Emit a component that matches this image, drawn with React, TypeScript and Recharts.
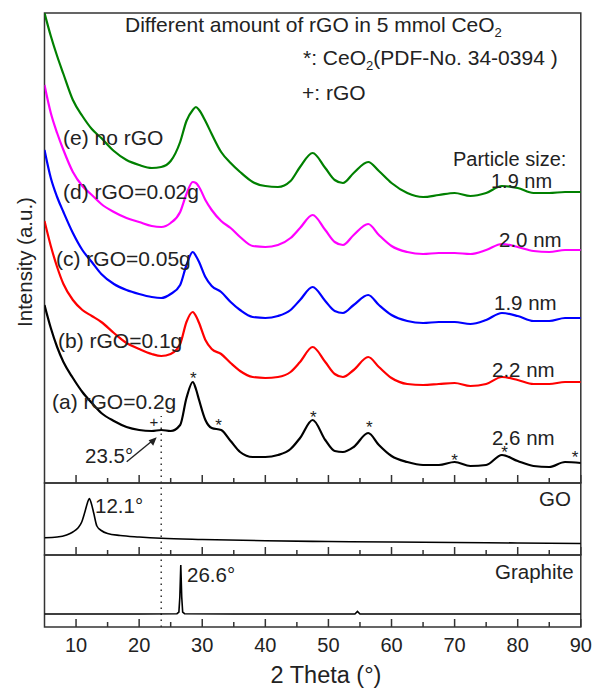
import React from "react";
import {
  ComposedChart,
  Line,
  Scatter,
  XAxis,
  YAxis,
  ReferenceArea,
  ReferenceLine,
} from "recharts";

const W = 594;
const H = 688;
const FONT = '"Liberation Sans", Arial, Helvetica, sans-serif';
const INK = "#222";

// 2θ grid shared by the five rGO / CeO2 patterns (top panel)
const twoTheta = [
  5, 6, 7, 8, 9.5, 11, 12.5, 14, 16, 18, 20, 22, 23.5, 25, 26.5, 27.5, 28.5, 29,
  29.5, 30.5, 31.5, 33, 34.5, 36, 38, 40, 42, 44, 45.5, 47.5, 49.5, 51, 52.3, 54,
  56.3, 58, 60, 62.5, 65, 67.5, 70, 72.5, 75, 77.5, 80, 82.5, 85, 87.5, 90,
];

// (a) rGO=0.2g
const rgo02 = [
  178, 155, 136, 121, 105, 91, 80, 70, 62, 56, 53, 52, 53, 52, 58, 85, 101, 94,
  83, 63, 55, 53, 42, 31, 26, 26, 28, 34, 45, 63, 43, 32, 31, 36, 50, 38, 27, 21,
  18, 18, 21, 17, 18, 28, 22, 17, 16, 21, 20,
];
// (b) rGO=0.1g
const rgo01 = [
  262, 237, 216, 199, 183, 173, 167, 161, 150, 140, 134, 129, 127, 129, 139, 161,
  171, 167, 160, 143, 134, 129, 120, 112, 106, 105, 106, 111, 121, 136, 121, 109,
  106, 113, 126, 116, 105, 99, 98, 99, 100, 97, 99, 106, 103, 99, 99, 101, 101,
];
// (c) rGO=0.05g
const rgo005 = [
  333, 305, 286, 271, 250, 233, 221, 209, 199, 193, 189, 186, 185, 189, 198, 218,
  231, 227, 221, 206, 197, 191, 181, 173, 166, 165, 167, 173, 183, 196, 182, 172,
  170, 178, 188, 178, 168, 162, 160, 161, 161, 159, 163, 170, 167, 162, 162, 165,
  165,
];
// (d) rGO=0.02g
const rgo002 = [
  398, 370, 350, 333, 311, 297, 288, 279, 271, 265, 261, 257, 256, 260, 271, 289,
  301, 300, 296, 283, 273, 262, 255, 246, 237, 236, 238, 245, 255, 268, 253, 241,
  238, 248, 259, 248, 237, 231, 229, 230, 230, 229, 233, 239, 236, 232, 231, 233,
  233,
];
// (e) no rGO
const noRgo = [
  470, 447, 427, 409, 383, 367, 354, 345, 332, 323, 318, 315, 316, 322, 341, 362,
  373, 376, 373, 362, 349, 331, 320, 311, 301, 297, 296, 302, 316, 330, 315, 303,
  300, 310, 321, 312, 300, 290, 286, 288, 290, 287, 290, 297, 295, 290, 290, 291,
  291,
];

// CeO2 reflections marked with * on pattern (a)
const starTheta = [28.6, 32.6, 47.6, 56.5, 70, 77.9, 89.1];
const starHeight = [109, 62, 70, 60, 27, 35, 30];

// GO reference pattern
const goTheta = [
  5, 7, 8.5, 9.5, 10.3, 10.9, 11.4, 11.8, 12.1, 12.4, 12.8, 13.3, 14, 15, 17, 20,
  23.5, 30, 40, 50, 60, 70, 80, 90,
];
const goIntensity = [
  17.3, 18, 20, 23, 27, 33, 43, 52, 56.5, 52, 42, 29, 24.5, 21.5, 19.5, 18, 16.7,
  15.5, 14.3, 13.5, 13, 12.5, 12, 11.5,
];

// Graphite reference pattern
const graphiteTheta = [
  5, 20, 26.0, 26.3, 26.45, 26.6, 26.75, 26.9, 27.2, 35, 54.2, 54.6, 55.0, 70, 90,
];
const graphiteIntensity = [
  13, 13, 13.3, 15, 30, 62, 30, 15, 13.3, 13, 13, 15.5, 13, 13, 13,
];

const xTicks = [10, 15, 20, 25, 30, 35, 40, 45, 50, 55, 60, 65, 70, 75, 80, 85, 90];
const rgoPeak = 23.5;

const topRows = twoTheta.map((t, i) => ({
  t,
  a: rgo02[i],
  b: rgo01[i],
  c: rgo005[i],
  d: rgo002[i],
  e: noRgo[i],
}));
const starRows = starTheta.map((t, i) => ({ t, v: starHeight[i] }));
const goRows = goTheta.map((t, i) => ({ t, v: goIntensity[i] }));
const graphiteRows = graphiteTheta.map((t, i) => ({ t, v: graphiteIntensity[i] }));

function frameTick(showLabel: boolean) {
  return (props: any) => {
    const { x, y, payload } = props;
    const major = payload.value % 10 === 0;
    return (
      <g>
        <line x1={x} x2={x} y1={y} y2={y - (major ? 8 : 5)} stroke="#333" strokeWidth={1.5} />
        {showLabel && major && (
          <text x={x} y={y + 24.5} textAnchor="middle" fontSize={20} fontFamily={FONT} fill={INK}>
            {payload.value}
          </text>
        )}
      </g>
    );
  };
}

function StarMark(props: any) {
  const { cx, cy } = props;
  return (
    <text x={cx} y={cy + 9.5} textAnchor="middle" fontSize={17} fontFamily={FONT} fill={INK}>
      *
    </text>
  );
}

function panelAxes(yMax: number, showLabel: boolean) {
  return [
    <XAxis
      key="x"
      dataKey="t"
      type="number"
      domain={[5, 90]}
      ticks={xTicks}
      interval={0}
      allowDataOverflow
      axisLine={false}
      tickLine={false}
      tickSize={0}
      tickMargin={0}
      height={30}
      tick={frameTick(showLabel)}
    />,
    <YAxis key="y" type="number" domain={[0, yMax]} allowDataOverflow hide />,
    <ReferenceArea
      key="frame"
      x1={5}
      x2={90}
      y1={0}
      y2={yMax}
      fill="none"
      fillOpacity={0}
      stroke="#333"
      strokeWidth={1.5}
    />,
  ];
}

const layer: React.CSSProperties = { position: "absolute", left: 0, top: 0 };
const margin = (top: number, bottom: number) => ({
  top,
  right: 13.2,
  left: 44.5,
  bottom: H - bottom - 30,
});

export default function App() {
  return (
    <div style={{ position: "absolute", left: 0, top: 0, width: W, height: H, background: "#fff" }}>
      <div style={layer}>
        <ComposedChart width={W} height={H} data={topRows} margin={margin(13, 483)}>
          {panelAxes(470, false)}
          <ReferenceLine
            segment={[
              { x: rgoPeak, y: 0 },
              { x: rgoPeak, y: 67 },
            ]}
            stroke="#333"
            strokeWidth={1.5}
            strokeDasharray="1.5 4.5"
          />
          <Line type="monotone" dataKey="a" stroke="#000000" strokeWidth={2.2} dot={false} isAnimationActive={false} />
          <Line type="monotone" dataKey="b" stroke="#ff0000" strokeWidth={2.2} dot={false} isAnimationActive={false} />
          <Line type="monotone" dataKey="c" stroke="#0000ff" strokeWidth={2.2} dot={false} isAnimationActive={false} />
          <Line type="monotone" dataKey="d" stroke="#ff00ff" strokeWidth={2.2} dot={false} isAnimationActive={false} />
          <Line type="monotone" dataKey="e" stroke="#008000" strokeWidth={2.2} dot={false} isAnimationActive={false} />
          <Scatter data={starRows} dataKey="v" shape={StarMark} isAnimationActive={false} />
        </ComposedChart>
      </div>

      <div style={layer}>
        <ComposedChart width={W} height={H} data={goRows} margin={margin(483, 555)}>
          {panelAxes(72, false)}
          <ReferenceLine x={rgoPeak} stroke="#333" strokeWidth={1.5} strokeDasharray="1.5 4.5" />
          <Line type="monotone" dataKey="v" stroke="#000" strokeWidth={1.6} dot={false} isAnimationActive={false} />
        </ComposedChart>
      </div>

      <div style={layer}>
        <ComposedChart width={W} height={H} data={graphiteRows} margin={margin(555, 627)}>
          {panelAxes(72, true)}
          <ReferenceLine x={rgoPeak} stroke="#333" strokeWidth={1.5} strokeDasharray="1.5 4.5" />
          <Line type="linear" dataKey="v" stroke="#000" strokeWidth={1.6} dot={false} isAnimationActive={false} />
        </ComposedChart>
      </div>

      <svg width={W} height={H} style={{ ...layer, pointerEvents: "none" }} fontFamily={FONT} fill={INK}>
        <text x={125} y={32} fontSize={21}>
          Different amount of rGO in 5 mmol CeO<tspan fontSize={13} dy={5}>2</tspan>
        </text>
        <text x={303} y={65} fontSize={21}>
          *: CeO<tspan fontSize={13} dy={5}>2</tspan>
          <tspan dy={-5}>(PDF-No. 34-0394 )</tspan>
        </text>
        <text x={302} y={100} fontSize={21}>+: rGO</text>

        <text x={453} y={166} fontSize={20}>Particle size:</text>
        <text x={491} y={188} fontSize={20}>1.9 nm</text>
        <text x={499} y={247} fontSize={20.5}>2.0 nm</text>
        <text x={494} y={310} fontSize={20.5}>1.9 nm</text>
        <text x={492} y={377} fontSize={20.5}>2.2 nm</text>
        <text x={492} y={445} fontSize={20.5}>2.6 nm</text>

        <text x={63} y={145} fontSize={21}>(e) no rGO</text>
        <text x={63} y={199} fontSize={21}>(d) rGO=0.02g</text>
        <text x={56} y={266} fontSize={21}>(c) rGO=0.05g</text>
        <text x={58} y={348} fontSize={21}>(b) rGO=0.1g</text>
        <text x={52} y={409} fontSize={21}>(a) rGO=0.2g</text>

        <text x={154} y={427} fontSize={15} textAnchor="middle">+</text>
        <text x={85} y={463} fontSize={20.5}>23.5°</text>
        <g stroke={INK} strokeWidth={1.4}>
          <line x1={126.7} y1={461.7} x2={152} y2={441} />
        </g>
        <polygon points="156.7,437.3 148.6,440.2 153.2,445.8" fill={INK} />

        <text x={95} y={512.5} fontSize={20.5}>12.1°</text>
        <text x={539} y={506} fontSize={20.5}>GO</text>
        <text x={187} y={582} fontSize={20.5}>26.6°</text>
        <text x={495} y={579} fontSize={20.5}>Graphite</text>

        <text x={326} y={683} fontSize={23.5} textAnchor="middle">2 Theta (°)</text>
        <text transform="translate(32,262) rotate(-90)" fontSize={20.5} textAnchor="middle">
          Intensity (a.u.)
        </text>
      </svg>
    </div>
  );
}
